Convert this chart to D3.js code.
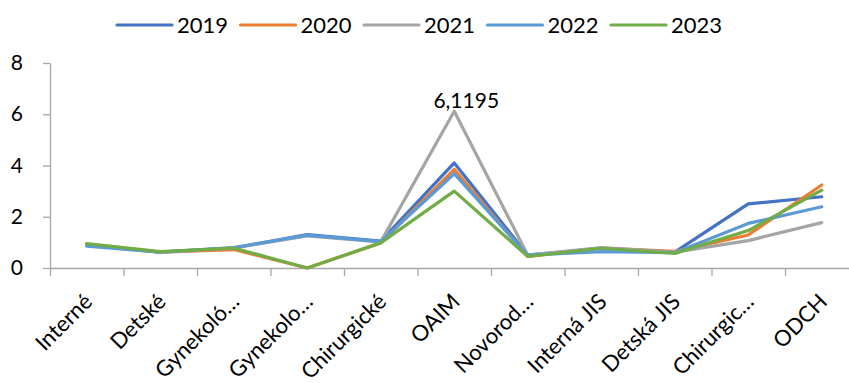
<!DOCTYPE html>
<html>
<head>
<meta charset="utf-8">
<script src="https://cdn.jsdelivr.net/npm/d3@7"></script>
<style>
  body { margin: 0; background: #fff; }
  svg { display: block; font-family: Lato, "Open Sans", sans-serif; }
</style>
</head>
<body>
<div id="chart"></div>
<script>
// Chart data
var categories = ["Interné", "Detské", "Gynekoló…", "Gynekolo…", "Chirurgické", "OAIM",
  "Novorod…", "Interná JIS", "Detská JIS", "Chirurgic…", "ODCH"];
var years = ["2019", "2020", "2021", "2022", "2023"];
var colors = ["#4472C4", "#ED7D31", "#A5A5A5", "#5B9BD5", "#70AD47"];

var values2019 = [0.9, 0.62, 0.78, 1.3, 1.05, 4.1, 0.5, 0.77, 0.62, 2.5, 2.78];
var values2020 = [0.92, 0.62, 0.72, 0, 0.98, 3.85, 0.45, 0.78, 0.65, 1.29, 3.24];
var values2021 = [0.9, 0.62, 0.78, 1.25, 1.02, 6.1195, 0.5, 0.8, 0.62, 1.07, 1.77];
var values2022 = [0.85, 0.62, 0.8, 1.28, 1.03, 3.68, 0.5, 0.64, 0.6, 1.74, 2.39];
var values2023 = [0.95, 0.64, 0.78, 0, 0.98, 3.0, 0.45, 0.77, 0.57, 1.46, 3.04];
var allSeries = [values2019, values2020, values2021, values2022, values2023];
var yTicks = [0, 2, 4, 6, 8];

// SVG area
var svgWidth = 849;
var svgHeight = 383;
var chartMargin = { top: 63, left: 50, bottom: 115 };
var plotRight = 858.5;
var axisY = svgHeight - chartMargin.bottom; // zero line

var svg = d3.select("#chart")
  .append("svg")
  .attr("width", svgWidth)
  .attr("height", svgHeight);

var xScale = d3.scaleBand()
  .domain(categories)
  .range([chartMargin.left, plotRight])
  .padding(0);

var xEdge = d3.scaleLinear()
  .domain([0, categories.length])
  .range([chartMargin.left, plotRight]);

var yScale = d3.scaleLinear()
  .domain([0, 8])
  .range([axisY, chartMargin.top]);

// Y axis
var leftAxis = d3.axisLeft(yScale)
  .tickValues(yTicks)
  .tickSize(7)
  .tickSizeOuter(0)
  .tickPadding(20)
  .tickFormat(d3.format("d"));

var yAxisG = svg.append("g")
  .attr("transform", `translate(${chartMargin.left}, 0)`)
  .call(leftAxis);
yAxisG.select(".domain").attr("stroke", "#A6A6A6").attr("stroke-width", 1.3);
yAxisG.selectAll(".tick line").attr("stroke", "#A6A6A6").attr("stroke-width", 1.3);
yAxisG.selectAll(".tick text")
  .attr("fill", "#000")
  .style("font-size", "21px")
  .style("font-family", "Lato, sans-serif");

// X axis (ticks at category boundaries)
var bottomAxis = d3.axisBottom(xEdge)
  .tickValues(d3.range(categories.length + 1))
  .tickSize(8)
  .tickSizeOuter(0)
  .tickFormat("");

var xAxisG = svg.append("g")
  .attr("transform", `translate(0, ${axisY})`)
  .call(bottomAxis);
xAxisG.select(".domain").attr("stroke", "#A6A6A6").attr("stroke-width", 1.3);
xAxisG.selectAll(".tick line").attr("stroke", "#A6A6A6").attr("stroke-width", 1.3);

// Category labels, rotated
svg.append("g")
  .selectAll("text")
  .data(categories)
  .enter()
  .append("text")
  .attr("transform", d => `translate(${xScale(d) + xScale.bandwidth() / 2 + 7}, ${axisY + 35}) rotate(-45)`)
  .attr("text-anchor", "end")
  .style("font-size", "22px")
  .attr("fill", "#000")
  .text(d => d);

// Lines
var line = d3.line()
  .x((d, i) => xScale(categories[i]) + xScale.bandwidth() / 2)
  .y(d => yScale(d));

svg.append("g")
  .selectAll("path")
  .data(allSeries)
  .enter()
  .append("path")
  .attr("d", line)
  .attr("fill", "none")
  .attr("stroke", (d, i) => colors[i])
  .attr("stroke-width", 3.2)
  .attr("stroke-linejoin", "round")
  .attr("stroke-linecap", "round");

// Data label on the 2021 OAIM peak
var peakIndex = categories.indexOf("OAIM");
svg.append("text")
  .attr("x", xScale("OAIM") + xScale.bandwidth() / 2 + 12)
  .attr("y", yScale(values2021[peakIndex]) - 3)
  .attr("text-anchor", "middle")
  .style("font-size", "21px")
  .attr("fill", "#000")
  .text(d3.format(".4f")(values2021[peakIndex]).replace(".", ","));

// Legend
var legend = svg.append("g")
  .selectAll("g")
  .data(years)
  .enter()
  .append("g")
  .attr("transform", (d, i) => `translate(${117 + i * 123.5}, 25)`);

legend.append("line")
  .attr("x1", 0)
  .attr("x2", 55)
  .attr("stroke", (d, i) => colors[i])
  .attr("stroke-width", 3.2)
  .attr("stroke-linecap", "round");

legend.append("text")
  .attr("x", 60)
  .attr("y", 8)
  .style("font-size", "22px")
  .attr("fill", "#000")
  .text(d => d);
</script>
</body>
</html>
